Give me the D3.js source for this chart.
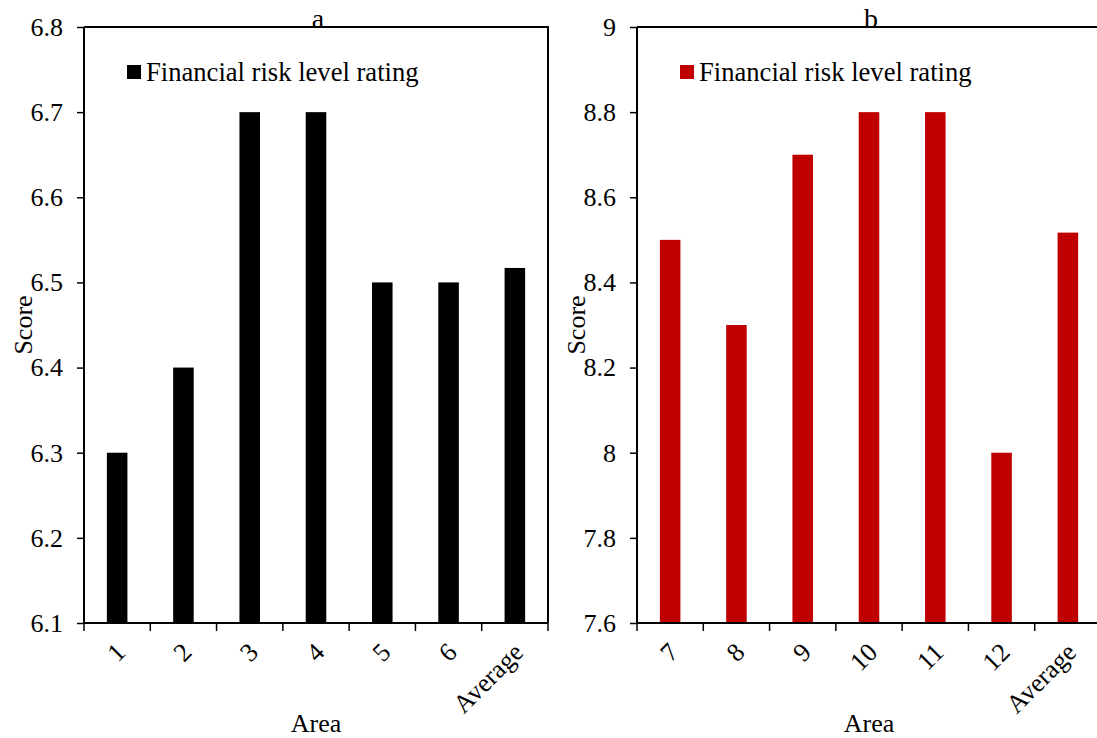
<!DOCTYPE html>
<html>
<head>
<meta charset="utf-8">
<script src="https://cdn.jsdelivr.net/npm/d3@7"></script>
<style>
  body { margin: 0; background: #fff; }
  text { font-family: "Liberation Serif", "Times New Roman", serif; fill: #000; }
</style>
</head>
<body>
<div id="chart"></div>
<script>
let areasA = ["1", "2", "3", "4", "5", "6", "Average"];
let scoresA = [6.3, 6.4, 6.7, 6.7, 6.5, 6.5, 6.517];
let ticksA = [6.1, 6.2, 6.3, 6.4, 6.5, 6.6, 6.7, 6.8];

let areasB = ["7", "8", "9", "10", "11", "12", "Average"];
let scoresB = [8.5, 8.3, 8.7, 8.8, 8.8, 8.0, 8.517];
let ticksB = [7.6, 7.8, 8.0, 8.2, 8.4, 8.6, 8.8, 9.0];

let legendLabel = "Financial risk level rating";

let width = 1097, height = 738;
let serif = '"Liberation Serif", "Times New Roman", serif';

let svg = d3.select("#chart")
    .append("svg")
    .attr("width", width)
    .attr("height", height);

function gen_panel(opts) {
    let plotW = 464, top = 27, bottom = 623;
    let g = svg.append("g").attr("transform", "translate(" + opts.left + ",0)");

    let x = d3.scaleBand()
        .domain(opts.areas)
        .range([0, plotW])
        .paddingInner(0.69)
        .paddingOuter(0.345);

    let y = d3.scaleLinear()
        .domain(d3.extent(opts.ticks))
        .range([bottom, top]);

    let band = d3.scaleBand().domain(opts.areas).range([0, plotW]);

    // bars
    g.selectAll(".bar")
        .data(opts.areas)
        .enter().append("rect")
        .attr("class", "bar")
        .attr("x", function(d) { return x(d); })
        .attr("width", x.bandwidth())
        .attr("y", function(d, i) { return y(opts.scores[i]); })
        .attr("height", function(d, i) { return bottom - y(opts.scores[i]); })
        .style("fill", opts.color);

    // frame top/right
    g.append("path")
        .attr("d", "M0," + top + "H" + plotW + "V" + bottom)
        .attr("fill", "none")
        .attr("stroke", "#000")
        .attr("stroke-width", 2);

    // y axis
    let yAxis = d3.axisLeft(y)
        .tickValues(opts.ticks)
        .tickSize(7)
        .tickPadding(14)
        .tickFormat(function(d) { return String(+d.toFixed(1)); });
    let ya = g.append("g").call(yAxis)
        .attr("font-family", null)
        .attr("font-size", null);
    ya.select(".domain").attr("stroke-width", 2).attr("d", "M0," + top + "V" + bottom);
    ya.selectAll(".tick line").attr("stroke-width", 1.5);
    ya.selectAll("text")
        .style("font-size", "26px")
        .style("font-family", serif)
        .attr("fill", "#000");

    // x axis: ticks at band boundaries
    g.append("line")
        .attr("x1", 0).attr("x2", plotW)
        .attr("y1", bottom).attr("y2", bottom)
        .attr("stroke", "#000").attr("stroke-width", 2);
    let bounds = opts.areas.map(function(d) { return band(d); }).concat([plotW]);
    g.selectAll(".xtick")
        .data(bounds)
        .enter().append("line")
        .attr("x1", function(d) { return d; })
        .attr("x2", function(d) { return d; })
        .attr("y1", bottom)
        .attr("y2", bottom + 8)
        .attr("stroke", "#000").attr("stroke-width", 1.5);

    g.selectAll(".xlabel")
        .data(opts.areas)
        .enter().append("text")
        .attr("transform", function(d) {
            return "translate(" + (band(d) + band.bandwidth() / 2 - 3) + "," + (bottom + 18) + ") rotate(-45)";
        })
        .attr("text-anchor", "end")
        .attr("dy", "0.7em")
        .style("font-size", "26px")
        .text(function(d) { return d; });

    // axis titles
    g.append("text")
        .attr("x", plotW / 2)
        .attr("y", 732)
        .attr("text-anchor", "middle")
        .style("font-size", "26px")
        .text("Area");

    g.append("text")
        .attr("transform", "translate(" + (-52) + "," + 325 + ") rotate(-90)")
        .attr("text-anchor", "middle")
        .style("font-size", "26px")
        .text("Score");

    // panel title
    g.append("text")
        .attr("x", plotW / 2 + 2)
        .attr("y", 28)
        .attr("text-anchor", "middle")
        .style("font-size", "28px")
        .text(opts.title);

    // legend
    g.append("rect")
        .attr("x", 43).attr("y", 65)
        .attr("width", 14).attr("height", 14)
        .style("fill", opts.color);
    g.append("text")
        .attr("x", 62).attr("y", 81)
        .style("font-size", "26.6px")
        .text(legendLabel);
}

gen_panel({ left: 84, areas: areasA, scores: scoresA, ticks: ticksA, color: "#000000", title: "a" });
gen_panel({ left: 637, areas: areasB, scores: scoresB, ticks: ticksB, color: "#C00000", title: "b" });
</script>
</body>
</html>
